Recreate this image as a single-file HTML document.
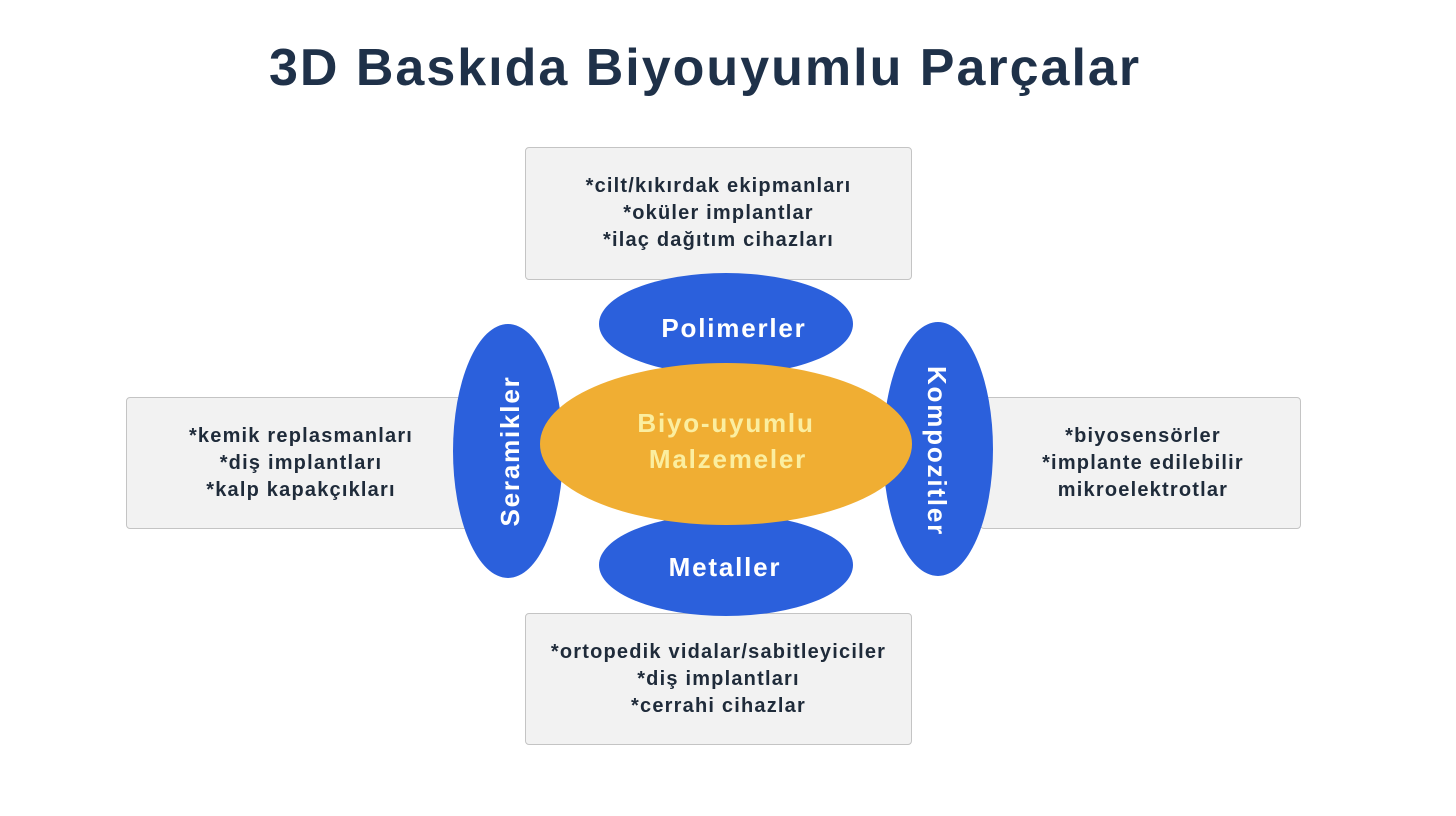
<!DOCTYPE html>
<html><head><meta charset="utf-8"><style>
html,body{margin:0;padding:0;background:#fff;}
body{width:1456px;height:816px;position:relative;overflow:hidden;font-family:"Liberation Sans",sans-serif;}
.t{position:absolute;left:0;width:1410px;top:38px;text-align:center;font-size:52px;letter-spacing:2px;font-weight:bold;color:#1f3149;}
.box{position:absolute;background:#f2f2f2;border:1.5px solid #c4c4c4;border-radius:4px;box-sizing:border-box;display:flex;align-items:center;justify-content:center;text-align:center;font-size:20px;font-weight:bold;letter-spacing:1.2px;line-height:27px;color:#1f2b3a;}
</style></head><body>
<div class="t">3D Baskıda Biyouyumlu Parçalar</div>
<div class="box" style="left:525px;top:147px;width:387px;height:133px;">*cilt/kıkırdak ekipmanları<br>*oküler implantlar<br>*ilaç dağıtım cihazları</div>
<div class="box" style="left:525px;top:613px;width:387px;height:132px;">*ortopedik vidalar/sabitleyiciler<br>*diş implantları<br>*cerrahi cihazlar</div>
<div class="box" style="left:126px;top:397px;width:350px;height:132px;">*kemik replasmanları<br>*diş implantları<br>*kalp kapakçıkları</div>
<div class="box" style="left:980px;top:397px;width:321px;height:132px;padding-left:5px;">*biyosensörler<br>*implante edilebilir<br>mikroelektrotlar</div>
<svg width="1456" height="816" style="position:absolute;left:0;top:0" font-family="Liberation Sans, sans-serif">
<g fill="#2b60dc">
<ellipse cx="726" cy="324" rx="127" ry="51"/>
<ellipse cx="726" cy="565" rx="127" ry="51"/>
<ellipse cx="508" cy="451" rx="55" ry="127"/>
<ellipse cx="938" cy="449" rx="55" ry="127"/>
</g>
<ellipse cx="726" cy="444" rx="186" ry="81" fill="#f0ae33"/>
<g fill="#fff" font-size="26" font-weight="bold" letter-spacing="1.8" text-anchor="middle">
<text x="734" y="337">Polimerler</text>
<text x="725" y="576">Metaller</text>
<text transform="translate(519,451) rotate(-90)">Seramikler</text>
<text transform="translate(928,451) rotate(90)">Kompozitler</text>
</g>
<g fill="#fbeea0" font-size="26" font-weight="bold" letter-spacing="1.8" text-anchor="middle">
<text x="726" y="432">Biyo-uyumlu</text>
<text x="728" y="468">Malzemeler</text>
</g>
</svg>
</body></html>
